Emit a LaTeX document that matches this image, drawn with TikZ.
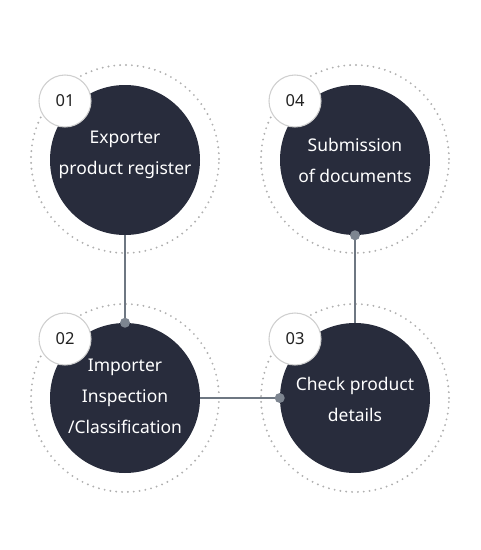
\documentclass[tikz,border=0pt]{standalone}
\usepackage{fontspec}
\setmainfont{Noto Sans}
\definecolor{darkfill}{HTML}{282C3C}
\definecolor{linegray}{HTML}{6E7782}
\definecolor{dotgray}{HTML}{7D8590}
\definecolor{ringgray}{HTML}{B0B0B0}
\definecolor{numborder}{HTML}{CFCFCF}
\definecolor{numtext}{HTML}{222222}
\begin{document}
\begin{tikzpicture}[x=0.75pt,y=-0.75pt,
  ring/.style={draw=ringgray,line width=1.6pt,line cap=round,dash pattern=on 0pt off 4.4pt},
  stepcircle/.style={circle,fill=darkfill,minimum size=150*0.75pt,inner sep=0pt},
  steptext/.style={text=white,align=center,font=\fontsize{13.1}{23.2}\selectfont},
  numcircle/.style={circle,draw=numborder,line width=0.8pt,fill=white,minimum size=52*0.75pt,inner sep=0pt,text=numtext,font=\fontsize{12.4}{14}\selectfont},
  conn/.style={draw=linegray,line width=0.8pt},
  knob/.style={circle,fill=dotgray,minimum size=10*0.75pt,inner sep=0pt}]
\useasboundingbox (0,0) rectangle (480,550);
% rings
\draw[ring] (125,159) circle[radius=94*0.75pt];
\draw[ring] (355,159) circle[radius=94*0.75pt];
\draw[ring] (125,398) circle[radius=94*0.75pt];
\draw[ring] (355,398) circle[radius=94*0.75pt];
% main circles
\node[stepcircle] (s1) at (125,160) {};
\node[stepcircle] (s4) at (355,160) {};
\node[stepcircle] (s2) at (125,398) {};
\node[stepcircle] (s3) at (355,398) {};
% connectors
\draw[conn] (s1.south) -- (s2.north);
\draw[conn] (s4.south) -- (s3.north);
\draw[conn] (s2.east) -- (s3.west);
\node[knob] (k2) at (s2.north) {};
\node[knob] (k4) at (s4.south) {};
\node[knob] (k3) at (s3.west) {};
% texts
\node[steptext] (t1) at (125,155) {Exporter\\product register};
\node[steptext] (t4) at (355,160) {Submission\\of documents};
\node[steptext] (t2) at (125,396) {Importer\\Inspection\\/Classification};
\node[steptext] (t3) at (355,399) {Check product\\details};
% number badges
\node[numcircle] (n1) at (65,101) {01};
\node[numcircle] (n4) at (295,101) {04};
\node[numcircle] (n2) at (65,339) {02};
\node[numcircle] (n3) at (295,339) {03};
\end{tikzpicture}
\end{document}
